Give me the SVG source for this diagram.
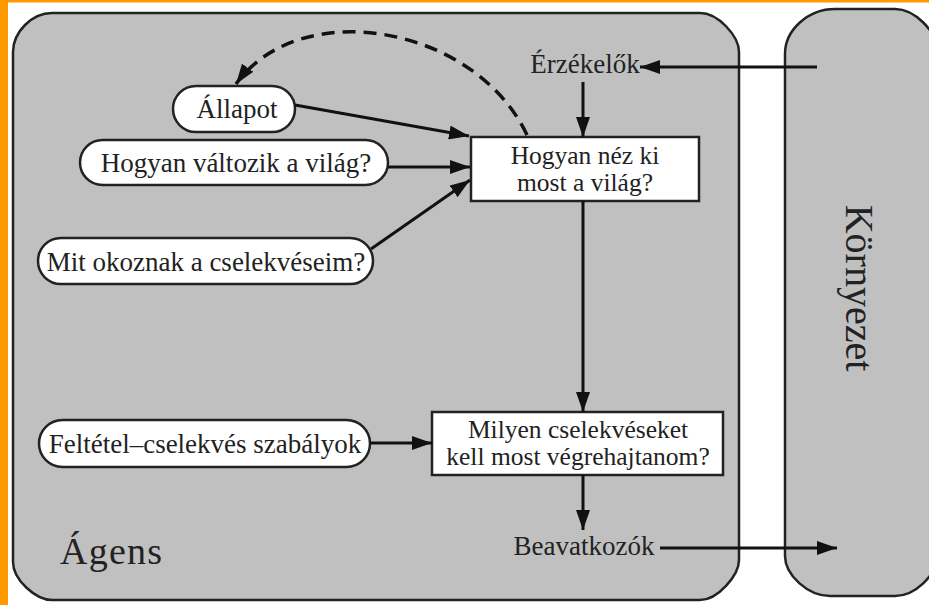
<svg xmlns="http://www.w3.org/2000/svg" width="929" height="605" viewBox="0 0 929 605">
<style>
.panel{fill:#c0c0c0;stroke:#222;stroke-width:2.5}
.pill{fill:#fff;stroke:#222;stroke-width:2.5}
.box{fill:#fff;stroke:#222;stroke-width:2.5}
.t{font-family:"Liberation Serif","Times New Roman",serif;font-size:27px;fill:#222;text-anchor:middle}
.t2{font-size:25.5px}
.c{fill:none;stroke:#111;stroke-width:3}
.d{fill:none;stroke:#111;stroke-width:3.5;stroke-dasharray:13 8}
</style>
<defs>
<marker id="ah" markerUnits="userSpaceOnUse" markerWidth="22" markerHeight="14" refX="20" refY="7" orient="auto">
<path d="M0,0 L20,7 L0,14 z" fill="#111"/>
</marker>
</defs>
<rect x="0" y="0" width="929" height="605" fill="#fff"/>
<rect x="0" y="0" width="929" height="2.5" fill="#f90"/>
<rect x="0" y="0" width="8" height="605" fill="#f90"/>

<g id="agent">
<path class="panel" d="M13,52 C13,32 32,13 52,13 L700,13 C718,13 739,36 739,52 L739,560 C739,575 718,600 700,600 L52,600 C36,600 13,580 13,562 Z"/>
<text class="t" x="60" y="564" style="text-anchor:start;font-size:38px" textLength="102">Ágens</text>
</g>
<g id="env">
<path class="panel" d="M785,54 C785,30 808,9 835,9 L895,9 C915,9 937,32 937,50 L937,556 C937,575 915,596 895,596 L830,596 C808,596 785,575 785,556 Z"/>
<text class="t" transform="translate(846,288) rotate(90)" style="font-size:40px">Környezet</text>
</g>

<g id="allapot">
<rect class="pill" x="173" y="86" width="122" height="46" rx="23"/>
<text class="t" x="237" y="118">Állapot</text>
</g>
<g id="hogyan-valtozik">
<rect class="pill" x="80" y="140" width="308" height="45" rx="22.5"/>
<text class="t" x="236" y="172">Hogyan változik a világ?</text>
</g>
<g id="mit-okoznak">
<rect class="pill" x="38" y="238" width="335" height="46" rx="23"/>
<text class="t" x="206" y="271">Mit okoznak a cselekvéseim?</text>
</g>
<g id="feltetel">
<rect class="pill" x="39" y="420" width="331" height="47" rx="23.5"/>
<text class="t" x="205" y="453">Feltétel–cselekvés szabályok</text>
</g>
<g id="erzekelok">
<text class="t" x="585" y="73">Érzékelők</text>
</g>
<g id="hogyan-nez">
<rect class="box" x="471" y="137" width="228" height="64"/>
<text class="t t2" x="585" y="164">Hogyan néz ki</text>
<text class="t t2" x="585" y="191">most a világ?</text>
</g>
<g id="milyen">
<rect class="box" x="432" y="412" width="291" height="63"/>
<text class="t t2" x="578" y="438">Milyen cselekvéseket</text>
<text class="t t2" x="578" y="465">kell most végrehajtanom?</text>
</g>
<g id="beavatkozok">
<text class="t" x="584" y="555">Beavatkozók</text>
</g>

<g id="connectors">
<path class="c" d="M817,67 L640,67" marker-end="url(#ah)"/>
<path class="c" d="M583,82 L583,137" marker-end="url(#ah)"/>
<path class="c" d="M295,105 L469,136" marker-end="url(#ah)"/>
<path class="c" d="M388,167 L470,167" marker-end="url(#ah)"/>
<path class="c" d="M371,249 L470,180" marker-end="url(#ah)"/>
<path class="c" d="M583,201 L583,412" marker-end="url(#ah)"/>
<path class="c" d="M370,443 L432,443" marker-end="url(#ah)"/>
<path class="c" d="M583,475 L583,530" marker-end="url(#ah)"/>
<path class="c" d="M660,548 L837,548" marker-end="url(#ah)"/>
<path class="d" d="M527,135 C475,25 300,-5 236,84" marker-end="url(#ah)"/>
</g>
</svg>
